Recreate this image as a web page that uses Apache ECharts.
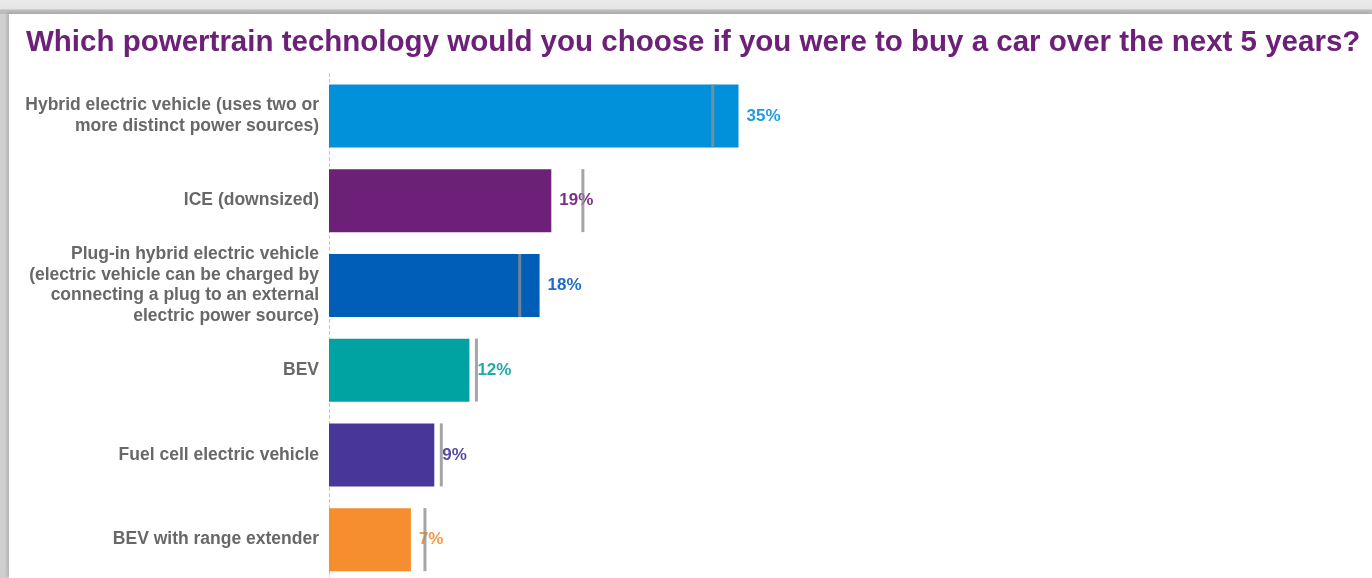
<!DOCTYPE html>
<html>
<head>
<meta charset="utf-8">
<script src="https://cdn.jsdelivr.net/npm/echarts@6/dist/echarts.min.js"></script>
<style>
  html, body { margin: 0; padding: 0; width: 1372px; height: 578px; overflow: hidden; }
  body { background: linear-gradient(#ebebeb 0, #e4e4e4 9px, #bcbcbc 10px, #bcbcbc 14px, #d0d0d0 14px); }
  #frame { position: absolute; left: 9px; top: 14px; right: 0; bottom: 0; background: #fff;
           box-shadow: -2px -1px 3px rgba(0,0,0,0.15); }
  #chart { position: absolute; left: -9px; top: -14px; width: 1372px; height: 578px; }
</style>
</head>
<body>
<div id="frame"><div id="chart"></div></div>
<script>
// Survey answers: share of respondents per powertrain (%), top to bottom
const categories = [
  'Hybrid electric vehicle (uses two or\nmore distinct power sources)',
  'ICE (downsized)',
  'Plug-in hybrid electric vehicle\n(electric vehicle can be charged by\nconnecting a plug to an external\nelectric power source)',
  'BEV',
  'Fuel cell electric vehicle',
  'BEV with range extender'
];
const currentShare = [35, 19, 18, 12, 9, 7];
// Previous-wave share, shown as a grey tick across each bar
const previousShare = [32.8, 21.7, 16.3, 12.6, 9.6, 8.2];
const barColors = ['#0091DA', '#6D2077', '#005EB8', '#00A3A1', '#483698', '#F68D2E'];
const labelColors = ['#1f9be0', '#7d2f88', '#1f6cc4', '#1faba9', '#5a4aa3', '#f79a45'];

const chart = echarts.init(document.getElementById('chart'), null, { renderer: 'canvas' });

chart.setOption({
  animation: false,
  title: {
    text: 'Which powertrain technology would you choose if you were to buy a car over the next 5 years?',
    left: 21, top: 23,
    textStyle: { color: '#6D2077', fontFamily: 'Liberation Sans', fontWeight: 'bold', fontSize: 29.5 }
  },
  // the last row runs past the bottom edge, so the grid is allowed to overflow
  grid: { left: 329, top: 73.5, width: 936, height: 508.5, containLabel: false, outerBoundsMode: 'none' },
  xAxis: {
    type: 'value', min: 0, max: 80, show: false
  },
  yAxis: {
    type: 'category', data: categories, inverse: true,
    axisTick: { show: false },
    axisLine: { show: true, lineStyle: { color: '#c4c4c4', type: [3, 3], width: 1 } },
    axisLabel: {
      color: '#686868', fontFamily: 'Liberation Sans', fontWeight: 'bold', fontSize: 17.5,
      lineHeight: 20.5, margin: 10, align: 'right', padding: [4, 0, 0, 0]
    }
  },
  series: [
    {
      type: 'bar', barWidth: 63, z: 2,
      data: currentShare.map((v, i) => ({
        value: v,
        itemStyle: { color: barColors[i] },
        label: { color: labelColors[i] }
      })),
      label: {
        show: true, position: 'right', distance: 8,
        fontFamily: 'Liberation Sans', fontWeight: 'bold', fontSize: 17,
        formatter: p => p.value + '%'
      }
    },
    {
      type: 'scatter', z: 3, symbol: 'rect', symbolSize: [3, 63], silent: true,
      itemStyle: { color: '#8e8e8e' },
      data: previousShare.map((v, i) => [v, i])
    }
  ]
});
</script>
</body>
</html>
